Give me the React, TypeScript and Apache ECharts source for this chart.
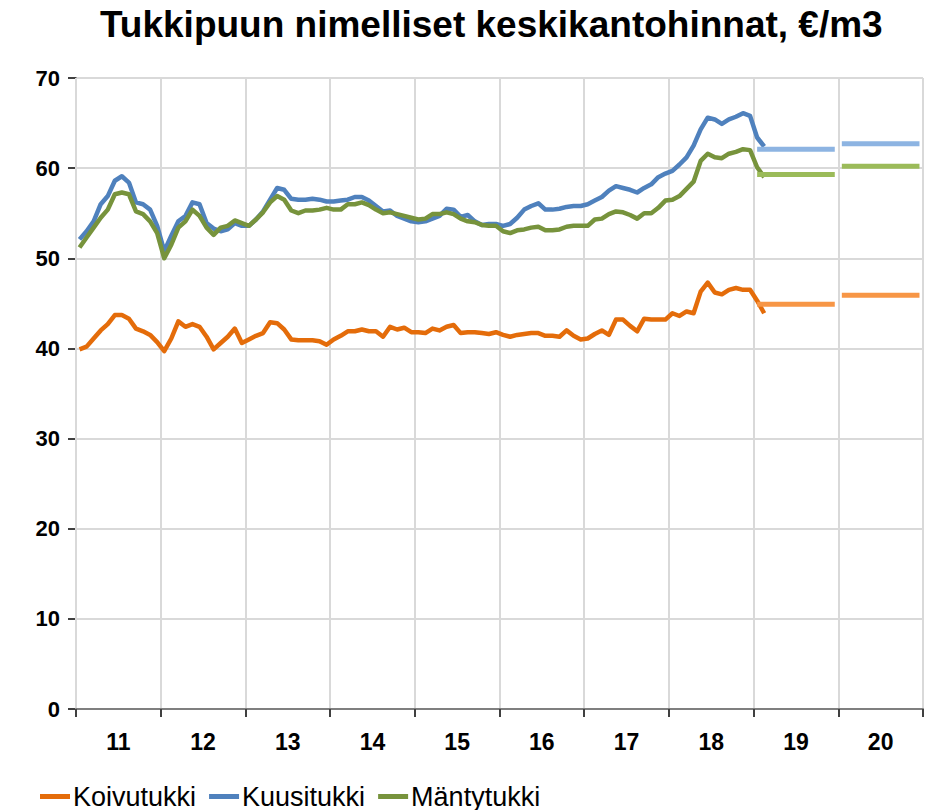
import React, { useEffect, useRef } from "react";
import * as echarts from "echarts";

const years = ["11", "12", "13", "14", "15", "16", "17", "18", "19", "20"];

const koivutukki = [
  39.9, 40.2, 41.1, 42.0, 42.7, 43.7, 43.7, 43.3, 42.2, 41.9, 41.5, 40.7,
  39.7, 41.1, 43.0, 42.4, 42.7, 42.4, 41.3, 39.9, 40.6, 41.3, 42.2, 40.6,
  41.0, 41.4, 41.7, 42.9, 42.8, 42.1, 41.0, 40.9, 40.9, 40.9, 40.8, 40.4,
  41.0, 41.4, 41.9, 41.9, 42.1, 41.9, 41.9, 41.3, 42.4, 42.1, 42.3, 41.8,
  41.8, 41.7, 42.2, 42.0, 42.4, 42.6, 41.7, 41.8, 41.8, 41.7, 41.6, 41.8,
  41.5, 41.3, 41.5, 41.6, 41.7, 41.7, 41.4, 41.4, 41.3, 42.0, 41.4, 41.0,
  41.1, 41.6, 42.0, 41.5, 43.2, 43.2, 42.5, 41.9, 43.3, 43.2, 43.2, 43.2,
  43.9, 43.6, 44.1, 43.9, 46.3, 47.3, 46.2, 46.0, 46.5, 46.7, 46.5, 46.5,
  45.3, 43.9,
];

const kuusitukki = [
  52.1, 53.0, 54.1, 56.0, 56.9, 58.6, 59.1, 58.4, 56.2, 56.0, 55.4, 53.6,
  50.8, 52.5, 54.1, 54.7, 56.2, 56.0, 53.9, 53.3, 53.0, 53.2, 53.9, 53.6,
  53.6, 54.3, 55.2, 56.5, 57.8, 57.6, 56.6, 56.5, 56.5, 56.6, 56.5, 56.3,
  56.3, 56.4, 56.5, 56.8, 56.8, 56.4, 55.8, 55.2, 55.3, 54.7, 54.4, 54.1,
  54.0, 54.1, 54.4, 54.7, 55.5, 55.4, 54.6, 54.8, 54.1, 53.7, 53.8, 53.8,
  53.6, 53.8, 54.5, 55.4, 55.8, 56.1, 55.4, 55.4, 55.5, 55.7, 55.8, 55.8,
  56.0, 56.4, 56.8, 57.5, 58.0, 57.8, 57.6, 57.3, 57.8, 58.2, 59.0, 59.4,
  59.7, 60.4, 61.2, 62.5, 64.3, 65.6, 65.4, 64.9, 65.4, 65.7, 66.1, 65.8,
  63.4, 62.4,
];

const mantytukki = [
  51.2, 52.3, 53.4, 54.5, 55.4, 57.1, 57.3, 57.1, 55.2, 54.9, 54.1, 52.8,
  50.0, 51.5, 53.4, 54.1, 55.4, 54.7, 53.4, 52.6, 53.4, 53.6, 54.2, 53.9,
  53.6, 54.3, 55.1, 56.2, 56.9, 56.5, 55.3, 55.0, 55.3, 55.3, 55.4, 55.6,
  55.4, 55.4, 56.0, 56.0, 56.2, 55.9, 55.4, 55.0, 55.1, 54.9, 54.7, 54.5,
  54.3, 54.4, 54.9, 54.9, 55.1, 54.9, 54.4, 54.1, 54.0, 53.7, 53.6, 53.6,
  53.0, 52.8, 53.1, 53.2, 53.4, 53.5, 53.1, 53.1, 53.2, 53.5, 53.6, 53.6,
  53.6, 54.3, 54.4, 54.9, 55.2, 55.1, 54.8, 54.4, 55.0, 55.0, 55.6, 56.4,
  56.5, 56.9, 57.7, 58.5, 60.8, 61.6, 61.2, 61.1, 61.6, 61.8, 62.1, 62.0,
  60.1, 59.0,
];

// Forecasts for 2019 and 2020 (year index 8 and 9)
const forecastYearIdx = [8, 9];
const koivuForecast = [44.9, 45.9];
const kuusiForecast = [62.1, 62.7];
const mantyForecast = [59.3, 60.2];

const yTicks = [0, 10, 20, 30, 40, 50, 60, 70];

const FONT = "'Liberation Sans', Arial, sans-serif";

function monthly(vals: number[]) {
  return vals.map((v, i) => [i + 0.5, v]);
}

function forecastSeries(name: string, vals: number[], color: string) {
  return forecastYearIdx.map((yi, k) => ({
    name: name,
    type: "line",
    xAxisIndex: 1,
    showSymbol: false,
    symbol: "none",
    lineStyle: { width: 5, color, cap: "butt" },
    itemStyle: { color },
    data: [
      [yi * 12 + 0.5, vals[k]],
      [yi * 12 + 11.5, vals[k]],
    ],
    z: 3,
  }));
}

export default function App() {
  const ref = useRef<HTMLDivElement>(null);
  useEffect(() => {
    if (!ref.current) return;
    const chart = echarts.init(ref.current, undefined, { renderer: "svg" });
    const mainLine = (name: string, vals: number[], color: string) => ({
      name,
      type: "line",
      xAxisIndex: 1,
      showSymbol: false,
      symbol: "none",
      lineStyle: { width: 4.5, color, join: "round" },
      itemStyle: { color },
      data: monthly(vals),
      z: 2,
    });
    chart.setOption({
      animation: false,
      backgroundColor: "#ffffff",
      title: {
        text: "Tukkipuun nimelliset keskikantohinnat, €/m3",
        left: 95,
        top: 1,
        textStyle: {
          fontFamily: FONT,
          fontSize: 37,
          fontWeight: "bold",
          color: "#000000",
        },
      },
      grid: { left: 76, right: 3, top: 78, bottom: 101, containLabel: false },
      legend: {
        data: ["Koivutukki", "Kuusitukki", "Mäntytukki"],
        left: 35,
        top: 778,
        icon: "rect",
        itemWidth: 30,
        itemHeight: 5,
        itemGap: 13,
        textStyle: { fontFamily: FONT, fontSize: 27, color: "#000000", padding: [0, 0, 0, -2] },
      },
      xAxis: [
        {
          type: "category",
          data: years,
          boundaryGap: true,
          axisLine: { show: true, lineStyle: { color: "#7f7f7f", width: 2 } },
          axisTick: { show: true, length: 8, lineStyle: { color: "#404040", width: 2 } },
          axisLabel: {
            fontFamily: FONT,
            fontSize: 23,
            fontWeight: "bold",
            color: "#000000",
            margin: 21,
          },
          splitLine: { show: true, lineStyle: { color: "#d9d9d9", width: 2 } },
          z: 1,
        },
        {
          type: "value",
          min: 0,
          max: 120,
          show: false,
          splitLine: { show: false },
        },
      ],
      yAxis: {
        type: "value",
        min: yTicks[0],
        max: yTicks[yTicks.length - 1],
        interval: 10,
        axisLine: { show: true, lineStyle: { color: "#7f7f7f", width: 2 } },
        axisTick: { show: true, length: 8, lineStyle: { color: "#404040", width: 2 } },
        axisLabel: {
          fontFamily: FONT,
          fontSize: 22,
          fontWeight: "bold",
          color: "#000000",
          margin: 16,
        },
        splitLine: { show: true, lineStyle: { color: "#d9d9d9", width: 2 } },
      },
      series: [
        mainLine("Koivutukki", koivutukki, "#e46c0a"),
        mainLine("Kuusitukki", kuusitukki, "#4f81bd"),
        mainLine("Mäntytukki", mantytukki, "#77933c"),
        ...forecastSeries("Koivutukki ennuste", koivuForecast, "#f79646"),
        ...forecastSeries("Kuusitukki ennuste", kuusiForecast, "#8db4e2"),
        ...forecastSeries("Mäntytukki ennuste", mantyForecast, "#9bbb59"),
      ],
    });
    return () => chart.dispose();
  }, []);
  return (
    <div
      ref={ref}
      style={{ position: "fixed", left: 0, top: 0, width: 926, height: 810 }}
    />
  );
}
